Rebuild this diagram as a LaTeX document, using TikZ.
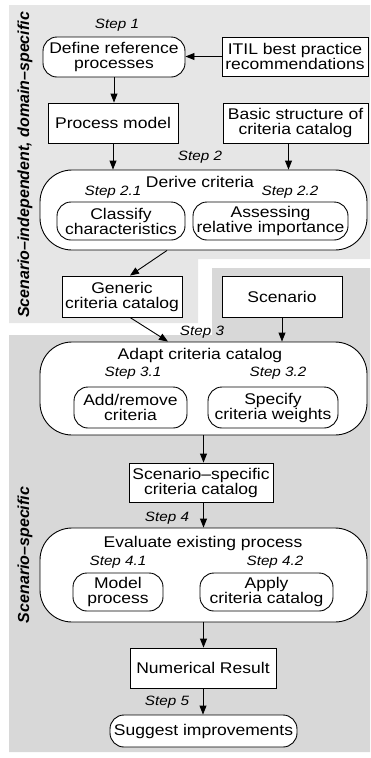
\documentclass[tikz,border=0pt]{standalone}
\usepackage{fontspec}
\setmainfont[FakeStretch=1.13]{Liberation Sans}
\newfontfamily\sidefamily{Liberation Sans}
\usetikzlibrary{arrows.meta}

\definecolor{zoneA}{RGB}{230,230,230}
\definecolor{zoneB}{RGB}{216,216,216}

\newcommand\boxfont{\fontsize{15.5}{15}\selectfont}
\newcommand\stepfont{\fontsize{13.5}{15}\selectfont\itshape}
\newcommand\sidefont{\sidefamily\fontsize{16}{18}\selectfont\bfseries\itshape}

\tikzset{
  box/.style={draw, fill=white, line width=0.9pt, inner sep=0pt, align=center, font=\boxfont},
  rbox/.style={box, rounded corners=14pt},
  bigbox/.style={draw, fill=white, line width=0.9pt, rounded corners=32pt, inner sep=0pt},
  title/.style={inner sep=0pt, font=\boxfont},
  steplbl/.style={inner sep=0pt, font=\stepfont},
  side/.style={inner sep=0pt, rotate=90, font=\sidefont},
  arr/.style={-{Triangle[length=9pt,width=7pt]}, line width=0.9pt},
}

\begin{document}
\begin{tikzpicture}[x=1pt, y=-1pt]
\useasboundingbox (0,0) rectangle (370,758);

% shaded zones
\fill[zoneA] (9,5) -- (370,5) -- (370,259) -- (198,259) -- (198,323) -- (9,323) -- cycle;
\fill[zoneB] (212,268) -- (370,268) -- (370,752) -- (9,752) -- (9,335) -- (212,335) -- cycle;

\node[side] (sideA) at (25,165) {Scenario–independent, domain–specific};
\node[side] (sideB) at (25,555) {Scenario–specific};

% step 1
\node[steplbl] (s1) at (117,25) {Step 1};
\node[rbox, minimum width=142pt, minimum height=40pt] (define) at (114,57) {Define reference\\processes};
\node[box, minimum width=146pt, minimum height=39pt] (itil) at (295,56.5) {ITIL best practice\\recommendations};
\node[box, minimum width=130pt, minimum height=40pt] (pmodel) at (113,123) {Process model};
\node[box, minimum width=145pt, minimum height=40pt] (basic) at (295.5,123) {Basic structure of\\criteria catalog};

% step 2
\node[steplbl] (s2) at (200,157) {Step 2};
\node[bigbox, minimum width=327pt, minimum height=80pt] (derive) at (203.5,210) {};
\node[title] (deriveT) at (200,182) {Derive criteria};
\node[steplbl] (s21) at (113,192) {Step 2.1};
\node[steplbl] (s22) at (290,192) {Step 2.2};
\node[rbox, minimum width=128pt, minimum height=38pt] (classify) at (121,221) {Classify\\characteristics};
\node[rbox, minimum width=155pt, minimum height=38pt] (assess) at (270.5,221) {Assessing\\relative importance};

\node[box, minimum width=120pt, minimum height=41pt] (generic) at (122,296.5) {Generic\\criteria catalog};
\node[box, minimum width=120pt, minimum height=41pt] (scen) at (282,296.5) {Scenario};

% step 3
\node[steplbl] (s3) at (202,332) {Step 3};
\node[bigbox, minimum width=327pt, minimum height=93pt] (adapt) at (203.5,388.5) {};
\node[title] (adaptT) at (200,355) {Adapt criteria catalog};
\node[steplbl] (s31) at (133,373) {Step 3.1};
\node[steplbl] (s32) at (278,373) {Step 3.2};
\node[rbox, minimum width=113pt, minimum height=41pt] (addrm) at (130.5,407.5) {Add/remove\\criteria};
\node[rbox, minimum width=130pt, minimum height=41pt] (weights) at (273,407.5) {Specify\\criteria weights};

\node[box, minimum width=144pt, minimum height=39pt] (sspec) at (201,482.5) {Scenario–specific\\criteria catalog};

% step 4
\node[steplbl] (s4) at (167,518) {Step 4};
\node[bigbox, minimum width=327pt, minimum height=94pt] (evaluate) at (203.5,575) {};
\node[title] (evalT) at (203,543) {Evaluate existing process};
\node[steplbl] (s41) at (118,562) {Step 4.1};
\node[steplbl] (s42) at (275,562) {Step 4.2};
\node[rbox, minimum width=90pt, minimum height=38pt] (model) at (118,592) {Model\\process};
\node[rbox, minimum width=133pt, minimum height=38pt] (apply) at (266.5,592) {Apply\\criteria catalog};

\node[box, minimum width=146pt, minimum height=40pt] (numres) at (203,668) {Numerical Result};

% step 5
\node[steplbl] (s5) at (167,702) {Step 5};
\node[rbox, minimum width=187pt, minimum height=32pt] (suggest) at (203.5,731) {Suggest improvements};

% connectors
\draw[arr] (itil.west) -- (itil.west -| define.east);
\draw[arr] (define.south) -- (define.south |- pmodel.north);
\draw[arr] (pmodel.south) -- (pmodel.south |- derive.north);
\draw[arr] ([xshift=-7pt]basic.south) -- ([xshift=-7pt]basic.south |- derive.north);
\draw[arr] ([xshift=-36.5pt]derive.south) -- ([xshift=8pt]generic.north);
\draw[arr] ([xshift=8pt]generic.south) -- ([xshift=-35.5pt]adapt.north);
\draw[arr] (scen.south) -- (scen.south |- adapt.north);
\draw[arr] (adapt.south) -- (adapt.south |- sspec.north);
\draw[arr] (adapt.south |- sspec.south) -- (adapt.south |- evaluate.north);
\draw[arr] (evaluate.south) -- (evaluate.south |- numres.north);
\draw[arr] (numres.south) -- (numres.south |- suggest.north);
\end{tikzpicture}
\end{document}
